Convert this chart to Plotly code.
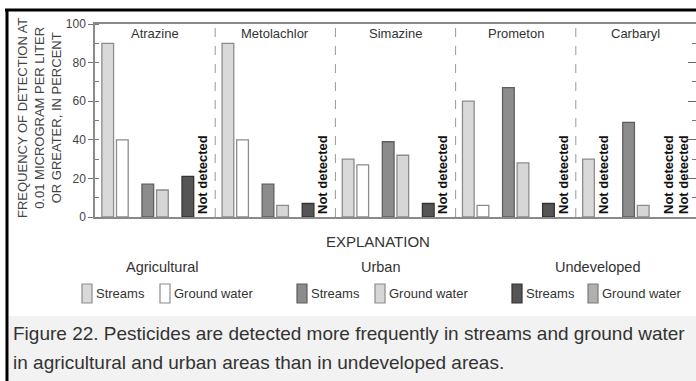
import plotly.graph_objects as go
from plotly.subplots import make_subplots

# ---------------- data ----------------
pesticides = ["Atrazine", "Metolachlor", "Simazine", "Prometon", "Carbaryl"]
land_uses = ["Agricultural", "Urban", "Undeveloped"]

# frequency of detection (percent); None = not detected
agri_streams = [90, 90, 30, 60, 30]
agri_ground = [40, 40, 27, 6, None]
urban_streams = [17, 17, 39, 67, 49]
urban_ground = [14, 6, 32, 28, 6]
undev_streams = [21, 7, 7, 7, None]
undev_ground = [None, None, None, None, None]

y_ticks = [0, 20, 40, 60, 80, 100]
series_labels = ["Streams", "Ground water"]
not_detected_label = "Not detected"
y_title = "FREQUENCY OF DETECTION AT<br>0.01 MICROGRAM PER LITER<br>OR GREATER, IN PERCENT"
legend_title = "EXPLANATION"
caption_1 = "Figure 22. Pesticides are detected more frequently in streams and ground water"
caption_2 = "in agricultural and urban areas than in undeveloped areas."

# ---------------- styles ----------------
FONT = "Arial, 'Liberation Sans', Helvetica, sans-serif"
stream_fill = ["#d9d9d9", "#8c8c8c", "#555555"]
stream_line = ["#8c8c8c", "#5e5e5e", "#333333"]
ground_fill = ["#ffffff", "#d6d6d6", "#b0b0b0"]
ground_line = ["#8c8c8c", "#8c8c8c", "#7a7a7a"]

W, H = 696, 381
L, R, T, B = 95, 696, 24, 217  # plot area in px
PW, PH = R - L, B - T


def px_x(x):
    return (x - L) / PW


def px_y(y):
    return (B - y) / PH


fig = make_subplots(rows=1, cols=5, horizontal_spacing=0)

streams_by_use = [agri_streams, urban_streams, undev_streams]
ground_by_use = [agri_ground, urban_ground, undev_ground]

for k, pest in enumerate(pesticides):
    col = k + 1
    for vals_by_use, fills, lines, name in [
        (streams_by_use, stream_fill, stream_line, series_labels[0]),
        (ground_by_use, ground_fill, ground_line, series_labels[1]),
    ]:
        raw = [v[k] for v in vals_by_use]
        yv = [0 if v is None else v for v in raw]
        txt = [not_detected_label if v is None else "" for v in raw]
        fig.add_trace(
            go.Bar(
                x=land_uses,
                y=yv,
                name=name,
                text=txt,
                textposition="outside",
                textangle=-90,
                constraintext="none",
                cliponaxis=False,
                textfont=dict(family=FONT, size=13, color="#111111", weight="bold"),
                marker=dict(
                    color=fills,
                    line=dict(color=[lines[i] if raw[i] is not None else "rgba(0,0,0,0)" for i in range(3)], width=1.3),
                ),
                showlegend=False,
                hoverinfo="skip",
            ),
            row=1,
            col=col,
        )

fig.update_layout(
    width=W,
    height=H,
    margin=dict(l=L, r=W - R, t=T, b=H - B),
    paper_bgcolor="white",
    plot_bgcolor="white",
    barmode="group",
    bargap=0.27,
    bargroupgap=0.2,
    font=dict(family=FONT, color="#444444"),
)

for k in range(5):
    xa = "xaxis" if k == 0 else f"xaxis{k+1}"
    ya = "yaxis" if k == 0 else f"yaxis{k+1}"
    fig.layout[xa].update(
        type="category",
        categoryorder="array",
        categoryarray=land_uses,
        range=[-0.5, 2.5],
        showticklabels=False,
        ticks="",
        showline=True,
        mirror=True,
        linecolor="#8a8a8a",
        linewidth=1.5,
        showgrid=False,
        zeroline=False,
    )
    fig.layout[ya].update(range=[0, 100], showgrid=False, zeroline=False)

fig.layout.yaxis.update(
    tickvals=y_ticks,
    ticks="outside",
    ticklen=5,
    tickcolor="#777777",
    tickfont=dict(size=12, color="#444444"),
    showline=True,
    linecolor="#8a8a8a",
    linewidth=1.5,
    minor=dict(ticks="inside", ticklen=4, dtick=10, tickcolor="#777777"),
)
for k in range(1, 4):
    fig.layout[f"yaxis{k+1}"].update(showticklabels=False, ticks="", showline=False)
fig.layout.yaxis5.update(
    side="right",
    showticklabels=False,
    showline=False,
    tickvals=y_ticks,
    ticks="inside",
    ticklen=8,
    tickcolor="#666666",
    minor=dict(ticks="inside", ticklen=4, dtick=10, tickcolor="#777777"),
)

shapes = []
# dashed panel dividers
for k in range(2, 6):
    shapes.append(dict(type="line", xref=f"x{k} domain", x0=0, x1=0, yref="paper", y0=0, y1=1,
                       line=dict(color="#999999", width=1, dash="dash")))
# caption background
shapes.append(dict(type="rect", xref="paper", yref="paper", x0=px_x(9), x1=px_x(W), y0=px_y(H), y1=px_y(316),
                   fillcolor="#f2f2f2", line=dict(width=0), layer="below"))
# black frame (top and left)
shapes.append(dict(type="line", xref="paper", yref="paper", x0=px_x(5), x1=px_x(W), y0=px_y(10), y1=px_y(10),
                   line=dict(color="black", width=3)))
shapes.append(dict(type="line", xref="paper", yref="paper", x0=px_x(7), x1=px_x(7), y0=px_y(9), y1=px_y(H),
                   line=dict(color="black", width=3)))

annotations = []
# panel titles
for k, pest in enumerate(pesticides):
    annotations.append(dict(text=pest, xref=f"x{k+1} domain" if k else "x domain", x=0.5, yref="paper", y=px_y(33),
                            showarrow=False, font=dict(size=13, color="#333333"), xanchor="center", yanchor="middle"))
# y title
annotations.append(dict(text=y_title, xref="paper", yref="paper", x=px_x(40), y=px_y(118), textangle=-90,
                        showarrow=False, font=dict(size=13, color="#444444"), xanchor="center", yanchor="middle"))
# legend / explanation
annotations.append(dict(text=legend_title, xref="paper", yref="paper", x=px_x(378), y=px_y(241), showarrow=False,
                        font=dict(size=15, color="#333333"), xanchor="center", yanchor="middle"))
group_centers = [162, 381, 597]
for name, cx in zip(land_uses, group_centers):
    annotations.append(dict(text=name, xref="paper", yref="paper", x=px_x(cx), y=px_y(267), showarrow=False,
                            font=dict(size=14.5, color="#333333"), xanchor="center", yanchor="middle"))
swatch_x = [[82, 160], [297, 375], [512, 588]]
for i in range(3):
    for j, (fills, lines) in enumerate([(stream_fill, stream_line), (ground_fill, ground_line)]):
        x0 = swatch_x[i][j]
        shapes.append(dict(type="rect", xref="paper", yref="paper", x0=px_x(x0), x1=px_x(x0 + 10),
                           y0=px_y(303), y1=px_y(284), fillcolor=fills[i], line=dict(color=lines[i], width=1.2)))
        annotations.append(dict(text=series_labels[j], xref="paper", yref="paper", x=px_x(x0 + 12), y=px_y(293),
                                showarrow=False, font=dict(size=13, color="#333333"), xanchor="left",
                                yanchor="middle"))
# caption
for txt, cy in [(caption_1, 333), (caption_2, 362)]:
    annotations.append(dict(text=txt, xref="paper", yref="paper", x=px_x(11), y=px_y(cy), showarrow=False,
                            font=dict(size=19, color="#333333"), xanchor="left", yanchor="middle"))

fig.update_layout(shapes=shapes, annotations=annotations)
fig.write_html("out.html", config={"displayModeBar": False},
               post_script="document.body.style.margin='0';")
